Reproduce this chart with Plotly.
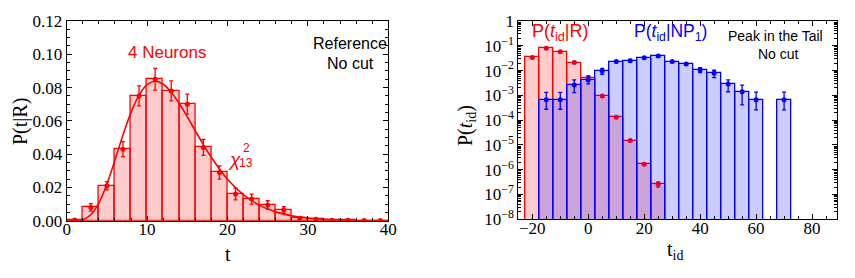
import plotly.graph_objects as go

W, H = 855, 278
OFF = 8  # page body margin in the browser

# ---------------- Left panel data ----------------
t_bins = [1, 3, 5, 7, 9, 11, 13, 15, 17, 19, 21, 23, 25, 27, 29, 31, 33, 35, 37, 39]
p_t = [0.0004, 0.008, 0.021, 0.043, 0.075, 0.085, 0.078, 0.070, 0.044, 0.029,
       0.016, 0.013, 0.0095, 0.0065, 0.0015, 0.0008, 0.0003, 0.0002, 0.0001, 0.0001]
p_t_err = [0.0004, 0.0023, 0.0025, 0.0045, 0.006, 0.0065, 0.006, 0.006, 0.0048, 0.004,
           0.0035, 0.003, 0.0025, 0.002, 0.001, 0.0006, 0.0003, 0.0002, 0.0001, 0.0001]

chi2_t = [0, 1, 2, 3, 4, 5, 6, 7, 8, 9, 10, 11, 12, 13, 14, 15, 16, 17, 18, 20, 22, 24, 26, 28, 30, 32, 35, 40]
chi2_p = [0.0, 0.00002, 0.0006, 0.0036, 0.0106, 0.022, 0.0364, 0.0515, 0.0651, 0.0755, 0.0818,
          0.0838, 0.082, 0.0772, 0.0704, 0.0624, 0.054, 0.0457, 0.038, 0.0249, 0.0155, 0.0092,
          0.0053, 0.0029, 0.0016, 0.0008, 0.0003, 0.00005]

# ---------------- Right panel data ----------------
tid_R = [-20, -15, -10, -5, 0, 5, 10, 15, 20, 25]
p_R = [0.034, 0.079, 0.058, 0.021, 0.0052, 0.00095, 1.3e-4, 1.5e-5, 1.65e-6, 2.6e-7]
p_R_err = [0.001, 0.002, 0.0015, 0.0007, 0.0003, 0.00005, 0.8e-5, 1e-6, 1.5e-7, 0.6e-7]

tid_NP = [-15, -10, -5, 0, 5, 10, 15, 20, 25, 30, 35, 40, 45, 50, 55, 60, 70]
p_NP = [6.6e-4, 6.6e-4, 2.6e-3, 4.2e-3, 9.6e-3, 0.023, 0.025, 0.033, 0.039, 0.023,
        0.0185, 0.0105, 0.0078, 0.0029, 0.0014, 6.6e-4, 6.6e-4]
p_NP_hi = [1.33e-3, 1.33e-3, 4.2e-3, 6.0e-3, 0.0123, 0.025, 0.028, 0.036, 0.042, 0.025,
           0.020, 0.013, 0.0103, 0.0042, 0.0026, 1.35e-3, 1.35e-3]
p_NP_lo = [2.75e-4, 2.75e-4, 1.3e-3, 2.9e-3, 0.0071, 0.021, 0.022, 0.030, 0.036, 0.021,
           0.017, 0.0082, 0.0052, 0.0014, 4.1e-4, 2.6e-4, 2.6e-4]

RED = "rgb(255,0,0)"
BLUE = "rgb(0,0,255)"

fig = go.Figure()

# Left: histogram bars
fig.add_trace(go.Bar(x=t_bins, y=p_t, width=2, xaxis="x", yaxis="y",
                     marker=dict(color="rgba(255,0,0,0.2)", line=dict(color=RED, width=1.3)),
                     showlegend=False))
fig.add_trace(go.Scatter(x=chi2_t, y=chi2_p, mode="lines", line=dict(color=RED, width=1.6, shape="spline"),
                         xaxis="x", yaxis="y", showlegend=False))
fig.add_trace(go.Scatter(x=t_bins, y=p_t, mode="markers", xaxis="x", yaxis="y",
                         marker=dict(color=RED, size=5),
                         error_y=dict(type="data", array=p_t_err, color=RED, thickness=1.3, width=2),
                         showlegend=False))

# Right: red then blue histograms
fig.add_trace(go.Bar(x=tid_R, y=p_R, width=5, xaxis="x2", yaxis="y2",
                     marker=dict(color="rgba(255,0,0,0.2)", line=dict(color=RED, width=1.3)),
                     showlegend=False))
fig.add_trace(go.Bar(x=tid_NP, y=p_NP, width=5, xaxis="x2", yaxis="y2",
                     marker=dict(color="rgba(0,0,255,0.2)", line=dict(color=BLUE, width=1.3)),
                     showlegend=False))
fig.add_trace(go.Scatter(x=tid_R, y=p_R, mode="markers", xaxis="x2", yaxis="y2",
                         marker=dict(color="rgb(230,0,40)", size=5),
                         error_y=dict(type="data", array=p_R_err, color="rgb(230,0,40)", thickness=1.3, width=2),
                         showlegend=False))
fig.add_trace(go.Scatter(x=tid_NP, y=p_NP, mode="markers", xaxis="x2", yaxis="y2",
                         marker=dict(color=BLUE, size=5),
                         error_y=dict(type="data", symmetric=False,
                                      array=[h - v for h, v in zip(p_NP_hi, p_NP)],
                                      arrayminus=[v - l for v, l in zip(p_NP, p_NP_lo)],
                                      color=BLUE, thickness=1.3, width=2),
                         showlegend=False))

FW, FH = W - OFF, H - OFF

def px(x):
    return (x - OFF) / FW

def py(y):
    return 1 - (y - OFF) / FH

tickfont = dict(family="Liberation Serif", size=17, color="black")
axis_common = dict(showline=True, linecolor="black", linewidth=1, mirror="allticks",
                   ticks="inside", ticklen=5, tickcolor="black", showgrid=False, zeroline=False,
                   tickfont=tickfont, automargin=False)

log_vals = [10.0 ** e for e in range(-8, 1)]
log_text = ["10<sup>\u2212%d</sup>" % (-e) for e in range(-8, 0)] + ["1"]

fig.update_layout(
    template="none",
    width=FW, height=FH, margin=dict(l=0, r=0, t=0, b=0, pad=0),
    paper_bgcolor="white", plot_bgcolor="white",
    barmode="overlay", bargap=0,
    xaxis=dict(domain=[px(66.7), px(388.3)], range=[0, 40], anchor="y",
               tickvals=[0, 10, 20, 30, 40], ticklabelstandoff=-7,
               minor=dict(ticks="inside", ticklen=3, dtick=2, tickcolor="black"),
               **axis_common),
    yaxis=dict(domain=[py(220.7), py(21)], range=[0, 0.12], anchor="x",
               tickvals=[0, 0.02, 0.04, 0.06, 0.08, 0.10, 0.12],
               ticktext=["0.00", "0.02", "0.04", "0.06", "0.08", "0.10", "0.12"],
               minor=dict(ticks="inside", ticklen=3, dtick=0.005, tickcolor="black"),
               **axis_common),
    xaxis2=dict(domain=[px(518.3), px(836.7)], range=[-25, 88.8], anchor="y2",
                tickvals=[-20, 0, 20, 40, 60, 80], ticklabelstandoff=-7,
                minor=dict(ticks="inside", ticklen=3, dtick=5, tickcolor="black"),
                **axis_common),
    yaxis2=dict(domain=[py(219.3), py(21)], type="log", range=[-8, 0], anchor="x2",
                tickvals=log_vals, ticktext=log_text,
                minor=dict(ticks="inside", ticklen=3, dtick="D1", tickcolor="black"),
                **axis_common),
)

ann = []
def A(text, x, y, size=16, color="black", family="Liberation Sans", angle=0, xanchor="center"):
    ann.append(dict(text=text, x=px(x), y=py(y), xref="paper", yref="paper", showarrow=False,
                    font=dict(family=family, size=size, color=color), textangle=angle,
                    xanchor=xanchor, yanchor="middle"))

# Left annotations
A("4 Neurons", 167, 53, size=17, color=RED)
A("Reference", 389, 43, size=16, xanchor="right")
A("No cut", 350, 63, size=16)
A("<i>\u03c7</i>", 234, 159, size=19, color=RED)
A("2", 246, 148, size=12, color=RED)
A("13", 246, 163, size=12, color=RED)
A("P(t|R)", 20, 122, size=20, family="Liberation Serif", angle=-90)
A("t", 228, 254, size=20, family="Liberation Serif")

# Right annotations
A("P(<i>t</i><sub>id</sub>|R)", 560, 33, size=18, color=RED)
A("P(<i>t</i><sub>id</sub>|NP<sub>1</sub>)", 670, 33, size=17.5, color=BLUE)
A("Peak in the Tail", 775, 36, size=14)
A("No cut", 778, 54, size=14)
A("P(<i>t</i><sub>id</sub>)", 466, 126, size=20, family="Liberation Serif", angle=-90)
A("t<sub>id</sub>", 675, 250, size=20, family="Liberation Serif")

fig.update_layout(annotations=ann)
fig.write_html("out.html")
